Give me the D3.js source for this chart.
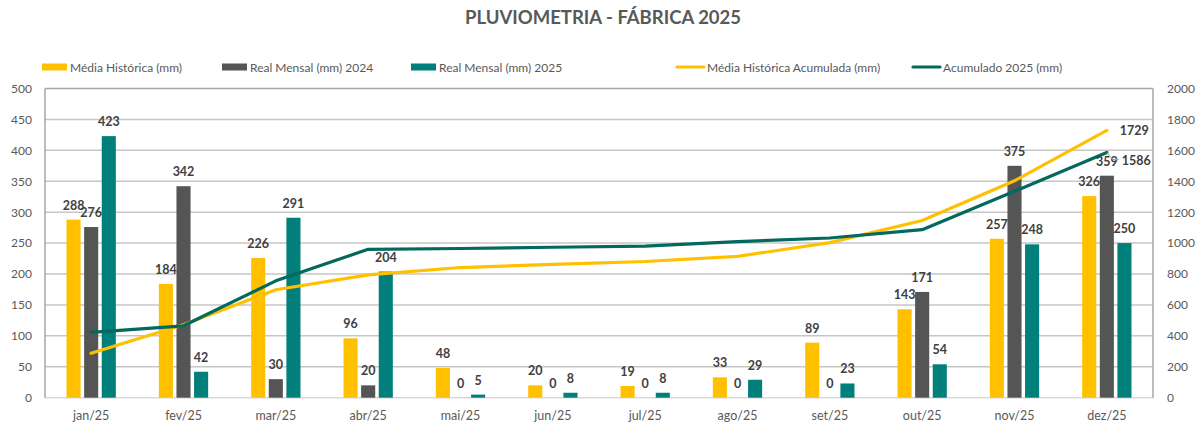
<!DOCTYPE html>
<html>
<head>
<meta charset="utf-8">
<script src="https://cdn.jsdelivr.net/npm/d3@7"></script>
<style>
  body { margin: 0; background: #fff; }
  svg { display: block; font-family: Lato, "Open Sans", sans-serif; }
</style>
</head>
<body>
<div class="chart"></div>
<script>
// data
var months = ["jan/25", "fev/25", "mar/25", "abr/25", "mai/25", "jun/25",
              "jul/25", "ago/25", "set/25", "out/25", "nov/25", "dez/25"];
var mediaHistorica = [288, 184, 226, 96, 48, 20, 19, 33, 89, 143, 257, 326];
var real2024 = [276, 342, 30, 20, 0, 0, 0, 0, 0, 171, 375, 359];
var real2025 = [423, 42, 291, 204, 5, 8, 8, 29, 23, 54, 248, 250];
var mediaAcumulada = [288, 472, 698, 794, 842, 862, 881, 914, 1003, 1146, 1403, 1729];
var acumulado2025 = [423, 465, 756, 960, 965, 973, 981, 1010, 1033, 1087, 1335, 1586];
var leftTicks = [0, 50, 100, 150, 200, 250, 300, 350, 400, 450, 500];
var rightTicks = [0, 200, 400, 600, 800, 1000, 1200, 1400, 1600, 1800, 2000];

var width = 1203, height = 427;
var plot = { left: 45, right: 1153, top: 88.5, bottom: 397.7 };
var yellow = "#FFC000", gray = "#555555", teal = "#007F7B", darkTeal = "#03695E";
var textColor = "#595959", labelColor = "#404040";

var svg = d3.select(".chart").append("svg")
	.attr("width", width)
	.attr("height", height);

// title
svg.append("text")
	.attr("x", 603)
	.attr("y", 24)
	.attr("text-anchor", "middle")
	.style("font-size", "18.5px")
	.style("font-weight", "bold")
	.style("fill", textColor)
	.text("PLUVIOMETRIA - FÁBRICA 2025");

//------------------------------------------------
// scales
var x = d3.scaleBand()
	.domain(months)
	.range([plot.left, plot.right])
	.paddingInner(0.466)
	.paddingOuter(0.233);

var series = ["hist", "r24", "r25"];
var xInner = d3.scaleBand()
	.domain(series)
	.range([0, x.bandwidth()])
	.paddingInner(0.2);

var yLeft = d3.scaleLinear()
	.domain([0, 500])
	.range([plot.bottom, plot.top]);

var yRight = d3.scaleLinear()
	.domain([0, 2000])
	.range([plot.bottom, plot.top]);

// gridlines
svg.append("g")
	.selectAll("line")
	.data(leftTicks.slice(1, -1))
	.enter().append("line")
	.attr("x1", plot.left)
	.attr("x2", plot.right)
	.attr("y1", function (d) { return yLeft(d); })
	.attr("y2", function (d) { return yLeft(d); })
	.style("stroke", "#c6c6c6")
	.style("stroke-width", 1.5);

// plot frame
svg.append("line")
	.attr("x1", plot.left).attr("x2", plot.right)
	.attr("y1", plot.top).attr("y2", plot.top)
	.style("stroke", "#a6a6a6").style("stroke-width", 1.5);
svg.append("line")
	.attr("x1", plot.left).attr("x2", plot.right)
	.attr("y1", plot.bottom).attr("y2", plot.bottom)
	.style("stroke", "#d9d9d9").style("stroke-width", 1.5);
svg.append("line")
	.attr("x1", plot.left).attr("x2", plot.left)
	.attr("y1", plot.top).attr("y2", plot.bottom)
	.style("stroke", "#a6a6a6").style("stroke-width", 1.5);
svg.append("line")
	.attr("x1", plot.right).attr("x2", plot.right)
	.attr("y1", plot.top).attr("y2", plot.bottom)
	.style("stroke", "#a6a6a6").style("stroke-width", 1.5);

// left axis
var leftAxis = svg.append("g")
	.attr("transform", "translate(" + (plot.left - 13) + ",0)")
	.call(d3.axisLeft(yLeft).tickValues(leftTicks).tickSize(0).tickPadding(0).tickFormat(d3.format("d")));
leftAxis.select(".domain").remove();
leftAxis.selectAll("text")
	.style("font-size", "12px")
	.style("font-family", "Lato, sans-serif")
	.style("fill", textColor);

// right axis
var rightAxis = svg.append("g")
	.attr("transform", "translate(" + (plot.right + 14) + ",0)")
	.call(d3.axisRight(yRight).tickValues(rightTicks).tickSize(0).tickPadding(0).tickFormat(d3.format("d")));
rightAxis.select(".domain").remove();
rightAxis.selectAll("text")
	.style("font-size", "12px")
	.style("font-family", "Lato, sans-serif")
	.style("fill", textColor);

// bottom axis
var bottomAxis = svg.append("g")
	.attr("transform", "translate(0," + plot.bottom + ")")
	.call(d3.axisBottom(x).tickSize(0).tickPadding(13));
bottomAxis.select(".domain").remove();
bottomAxis.selectAll("text")
	.style("font-size", "12.5px")
	.style("font-family", "Lato, sans-serif")
	.style("fill", textColor);

//------------------------------------------------
// bars
var barSeries = [
	{ key: "hist", values: mediaHistorica, color: yellow },
	{ key: "r24", values: real2024, color: gray },
	{ key: "r25", values: real2025, color: teal }
];

barSeries.forEach(function (s) {
	var g = svg.append("g");
	g.selectAll("rect")
		.data(s.values)
		.enter().append("rect")
		.attr("x", function (d, i) { return x(months[i]) + xInner(s.key); })
		.attr("y", function (d) { return yLeft(d); })
		.attr("width", xInner.bandwidth())
		.attr("height", function (d) { return plot.bottom - yLeft(d); })
		.style("fill", s.color);
});

//------------------------------------------------
// lines
var lineGen = d3.line()
	.x(function (d, i) { return x(months[i]) + x.bandwidth() / 2; })
	.y(function (d) { return yRight(d); });

svg.append("path")
	.datum(mediaAcumulada)
	.attr("d", lineGen)
	.style("fill", "none")
	.style("stroke", yellow)
	.style("stroke-width", 3.2)
	.style("stroke-linejoin", "round")
	.style("stroke-linecap", "round");

svg.append("path")
	.datum(acumulado2025)
	.attr("d", lineGen)
	.style("fill", "none")
	.style("stroke", darkTeal)
	.style("stroke-width", 3.2)
	.style("stroke-linejoin", "round")
	.style("stroke-linecap", "round");

//------------------------------------------------
// bar labels
barSeries.forEach(function (s) {
	svg.append("g").selectAll("text")
		.data(s.values)
		.enter().append("text")
		.attr("x", function (d, i) { return x(months[i]) + xInner(s.key) + xInner.bandwidth() / 2; })
		.attr("y", function (d) { return yLeft(d) - 10; })
		.attr("text-anchor", "middle")
		.style("font-size", "12.5px")
		.style("font-weight", "bold")
		.style("fill", labelColor)
		.text(function (d) { return d; });
});

// line end labels
var last = months.length - 1;
var endX = x(months[last]) + x.bandwidth() / 2;

svg.append("text")
	.attr("x", endX + 13)
	.attr("y", yRight(mediaAcumulada[last]) + 5)
	.style("font-size", "12.5px")
	.style("font-weight", "bold")
	.style("fill", labelColor)
	.text(mediaAcumulada[last]);

var endY = yRight(acumulado2025[last]);
svg.append("path")
	.attr("d", "M" + endX + "," + endY + "L" + (endX + 6) + "," + (endY + 7) + "L" + (endX + 12) + "," + (endY + 7))
	.style("fill", "none")
	.style("stroke", "#a6a6a6")
	.style("stroke-width", 1);
svg.append("text")
	.attr("x", endX + 15)
	.attr("y", endY + 12)
	.style("font-size", "12.5px")
	.style("font-weight", "bold")
	.style("fill", labelColor)
	.text(acumulado2025[last]);

//------------------------------------------------
// legend
var legendItems = [
	{ label: "Média Histórica (mm)", color: yellow, type: "rect", x: 42 },
	{ label: "Real Mensal (mm) 2024", color: gray, type: "rect", x: 222 },
	{ label: "Real Mensal (mm) 2025", color: teal, type: "rect", x: 411 },
	{ label: "Média Histórica Acumulada (mm)", color: yellow, type: "line", x: 677 },
	{ label: "Acumulado 2025 (mm)", color: darkTeal, type: "line", x: 913 }
];
var legendY = 67;
var legend = svg.append("g");
legendItems.forEach(function (it) {
	if (it.type === "rect") {
		legend.append("rect")
			.attr("x", it.x).attr("y", legendY - 3.5)
			.attr("width", 25).attr("height", 7)
			.style("fill", it.color);
	} else {
		legend.append("line")
			.attr("x1", it.x).attr("x2", it.x + 27)
			.attr("y1", legendY).attr("y2", legendY)
			.style("stroke", it.color)
			.style("stroke-width", 3.2)
			.style("stroke-linecap", "round");
	}
	legend.append("text")
		.attr("x", it.x + (it.type === "rect" ? 28 : 30))
		.attr("y", legendY + 4.5)
		.style("font-size", "12px")
		.style("fill", textColor)
		.text(it.label);
});
</script>
</body>
</html>
